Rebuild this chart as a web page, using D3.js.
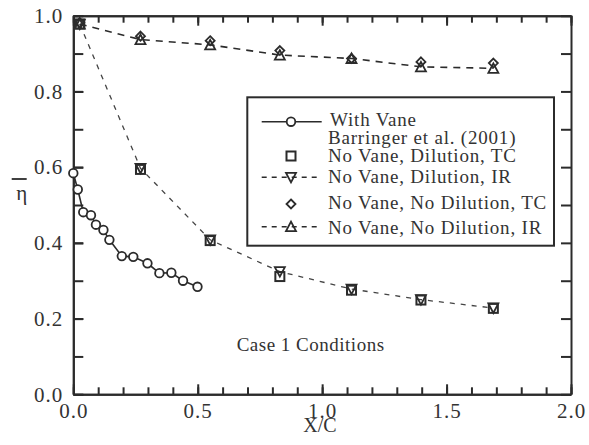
<!DOCTYPE html>
<html>
<head>
<meta charset="utf-8">
<script src="https://cdn.jsdelivr.net/npm/d3@7"></script>
<style>
  html, body { margin: 0; padding: 0; background: #fff; }
  svg { display: block; }
  text { font-family: "Liberation Serif", "Times New Roman", serif; fill: #333; }
</style>
</head>
<body>
<svg id="chart" width="589" height="445"></svg>
<script>
// Film cooling effectiveness vs. X/C
const withVaneX = [0.0, 0.018, 0.04, 0.071, 0.091, 0.121, 0.145, 0.195, 0.241, 0.298, 0.346, 0.394, 0.441, 0.499];
const withVaneY = [0.584, 0.541, 0.481, 0.473, 0.448, 0.434, 0.408, 0.365, 0.363, 0.346, 0.320, 0.321, 0.300, 0.284];

const noVaneX = [0.026, 0.270, 0.550, 0.830, 1.118, 1.397, 1.688];
const dilutionTC = [0.978, 0.594, 0.406, 0.311, 0.275, 0.249, 0.227];
const dilutionIR = [0.978, 0.597, 0.408, 0.324, 0.278, 0.250, 0.228];
const noDilutionTC = [0.982, 0.946, 0.934, 0.908, 0.887, 0.878, 0.875];
const noDilutionIR = [0.978, 0.937, 0.923, 0.896, 0.887, 0.865, 0.861];

const xMajor = [0, 0.5, 1.0, 1.5, 2.0];
const xMinor = d3.range(0, 2.0001, 0.1);
const yMajor = [0, 0.2, 0.4, 0.6, 0.8, 1.0];
const yMinor = d3.range(0, 1.0001, 0.1);

const legendLabels = [
  "With Vane",
  "Barringer et al. (2001)",
  "No Vane, Dilution, TC",
  "No Vane, Dilution, IR",
  "No Vane, No Dilution, TC",
  "No Vane, No Dilution, IR"
];

const ink = "#2b2b2b";
const svg = d3.select("#chart");

const x = d3.scaleLinear().domain([0, 2]).range([73.3, 571]);
const y = d3.scaleLinear().domain([0, 1]).range([394.3, 15.7]);

// ---- axes (ticks point inward on all four sides) ----
const fmt = d3.format(".1f");
function styleAxis(g) {
  g.selectAll("path.domain").attr("stroke", ink).attr("stroke-width", 2);
  g.selectAll(".tick line").attr("stroke", ink).attr("stroke-width", 2);
  g.selectAll(".tick text")
    .attr("font-size", 21)
    .attr("letter-spacing", 1)
    .attr("fill", "#333");
}

svg.append("g").attr("transform", `translate(0,${y(0)})`)
  .call(d3.axisBottom(x).tickValues(xMinor).tickSize(-7).tickSizeOuter(0).tickFormat(""))
  .call(styleAxis);
svg.append("g").attr("transform", `translate(0,${y(0)})`)
  .call(d3.axisBottom(x).tickValues(xMajor).tickSize(-10).tickSizeOuter(0).tickPadding(9).tickFormat(fmt))
  .call(styleAxis);

svg.append("g").attr("transform", `translate(0,${y(1)})`)
  .call(d3.axisTop(x).tickValues(xMinor).tickSize(-7).tickSizeOuter(0).tickFormat(""))
  .call(styleAxis);
svg.append("g").attr("transform", `translate(0,${y(1)})`)
  .call(d3.axisTop(x).tickValues(xMajor).tickSize(-10).tickSizeOuter(0).tickFormat(""))
  .call(styleAxis);

svg.append("g").attr("transform", `translate(${x(0)},0)`)
  .call(d3.axisLeft(y).tickValues(yMinor).tickSize(-10).tickSizeOuter(0).tickFormat(""))
  .call(styleAxis);
svg.append("g").attr("transform", `translate(${x(0)},0)`)
  .call(d3.axisLeft(y).tickValues(yMajor).tickSize(-10).tickSizeOuter(0).tickPadding(10).tickFormat(fmt))
  .call(styleAxis);

svg.append("g").attr("transform", `translate(${x(2)},0)`)
  .call(d3.axisRight(y).tickValues(yMinor).tickSize(-10).tickSizeOuter(0).tickFormat(""))
  .call(styleAxis);

// axis titles
svg.append("text").attr("x", 320).attr("y", 432).attr("text-anchor", "middle")
  .attr("font-size", 20).text("X/C");
svg.append("text").attr("x", 21.7).attr("y", 200).attr("text-anchor", "middle")
  .attr("font-size", 21).text("η");
svg.append("line").attr("x1", 11.7).attr("x2", 26.7).attr("y1", 179).attr("y2", 179)
  .attr("stroke", ink).attr("stroke-width", 1.8);

// ---- symbol helpers ----
function circle(g, cx, cy) {
  g.append("circle").attr("cx", cx).attr("cy", cy).attr("r", 4.3)
    .attr("fill", "#fff").attr("stroke", ink).attr("stroke-width", 1.8);
}
function square(g, cx, cy) {
  const s = 9;
  g.append("rect").attr("x", cx - s / 2).attr("y", cy - s / 2).attr("width", s).attr("height", s)
    .attr("fill", "none").attr("stroke", ink).attr("stroke-width", 2);
}
function triDown(g, cx, cy) {
  const h = 5;
  g.append("path").attr("d", `M${cx - h},${cy - h + 0.5}L${cx + h},${cy - h + 0.5}L${cx},${cy + h}Z`)
    .attr("fill", "none").attr("stroke", ink).attr("stroke-width", 1.8);
}
function triUp(g, cx, cy) {
  const h = 5;
  g.append("path").attr("d", `M${cx - h},${cy + h - 0.5}L${cx + h},${cy + h - 0.5}L${cx},${cy - h}Z`)
    .attr("fill", "none").attr("stroke", ink).attr("stroke-width", 1.8);
}
function diamond(g, cx, cy) {
  const h = 4.5;
  g.append("path").attr("d", `M${cx},${cy - h}L${cx + h},${cy}L${cx},${cy + h}L${cx - h},${cy}Z`)
    .attr("fill", "none").attr("stroke", ink).attr("stroke-width", 1.8);
}

// ---- series lines ----
const line = d3.line().x(d => x(d[0])).y(d => y(d[1]));
const plot = svg.append("g");

plot.append("path")
  .datum(noVaneX.map((v, i) => [v, dilutionIR[i]]))
  .attr("d", line).attr("fill", "none").attr("stroke", "#444")
  .attr("stroke-width", 1.3).attr("stroke-dasharray", "5,6");

plot.append("path")
  .datum(noVaneX.map((v, i) => [v, noDilutionIR[i]]))
  .attr("d", line).attr("fill", "none").attr("stroke", ink)
  .attr("stroke-width", 1.6).attr("stroke-dasharray", "7,6");

plot.append("path")
  .datum(withVaneX.map((v, i) => [v, withVaneY[i]]))
  .attr("d", line).attr("fill", "none").attr("stroke", ink).attr("stroke-width", 1.6);

// ---- markers ----
noVaneX.forEach((v, i) => square(plot, x(v), y(dilutionTC[i])));
noVaneX.forEach((v, i) => triDown(plot, x(v), y(dilutionIR[i])));
noVaneX.forEach((v, i) => diamond(plot, x(v), y(noDilutionTC[i])));
noVaneX.forEach((v, i) => triUp(plot, x(v), y(noDilutionIR[i])));
withVaneX.forEach((v, i) => circle(plot, x(v), y(withVaneY[i])));

// ---- annotation ----
svg.append("text").attr("x", 236.7).attr("y", 350.7).attr("font-size", 19)
  .attr("letter-spacing", 0.5).text("Case 1 Conditions");

// ---- legend ----
const lg = svg.append("g");
lg.append("rect").attr("x", 247.3).attr("y", 97.3).attr("width", 306.7).attr("height", 148.4)
  .attr("fill", "#fff").attr("stroke", ink).attr("stroke-width", 2);

const symX = 291, lineL = 261.7, lineR = 321.7, textX = 328;
const symYs = [121.7, 156, 177.3, 204, 226.7];
const textYs = [126.2, 143.5, 161.7, 183.3, 209.3, 234.3];

lg.append("line").attr("x1", lineL).attr("x2", lineR).attr("y1", symYs[0]).attr("y2", symYs[0])
  .attr("stroke", ink).attr("stroke-width", 1.6);
circle(lg, symX, symYs[0]);
square(lg, symX, symYs[1]);
[2, 4].forEach(k => {
  lg.append("line").attr("x1", lineL).attr("x2", lineR).attr("y1", symYs[k]).attr("y2", symYs[k])
    .attr("stroke", ink).attr("stroke-width", 1.5).attr("stroke-dasharray", "5,5");
});
triDown(lg, symX, symYs[2]);
diamond(lg, symX, symYs[3]);
triUp(lg, symX, symYs[4]);

legendLabels.forEach((t, i) => {
  lg.append("text").attr("x", i === 0 ? textX + 2 : textX).attr("y", textYs[i])
    .attr("font-size", 19).attr("letter-spacing", 0.8).text(t);
});
</script>
</body>
</html>
